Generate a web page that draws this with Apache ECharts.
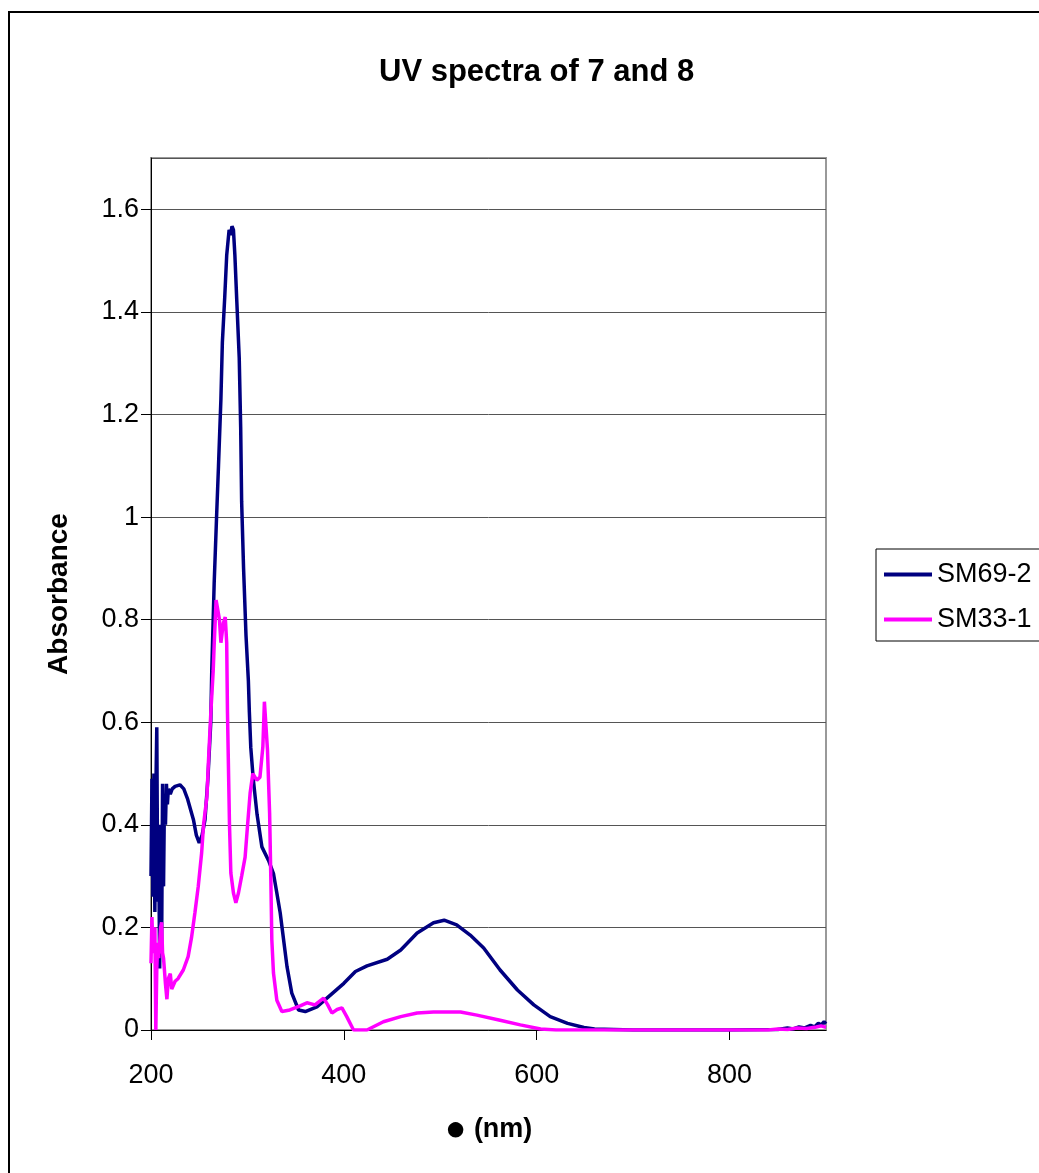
<!DOCTYPE html>
<html lang="en">
<head>
    <meta charset="utf-8"/>
    <title>UV spectra</title>
    <script src="https://cdn.jsdelivr.net/npm/echarts@6/dist/echarts.min.js"></script>
    <style>
        html, body { margin: 0; padding: 0; background: #fff; }
        #main { width: 1039px; height: 1173px; }
    </style>
</head>
<body>
<div id="main"></div>
<script type="text/javascript">

    // wavelength (nm) / absorbance
    var sm69Nm = [200, 201, 202, 203, 204, 205, 206, 207, 208, 209, 210, 211, 212, 213, 214, 215, 216, 217, 218, 220,
        222, 225, 230, 234, 238, 241, 244, 247, 250, 253, 256, 259, 262, 263, 265.5, 268, 270, 272.5, 274, 276.5,
        278.5, 281, 282.5, 284, 285.5, 287, 289, 291.5, 293, 294, 296, 298.5, 301, 302, 303.5, 306, 310, 315, 322, 327,
        330.5, 334, 337.5, 341, 346, 353, 360, 372, 386, 400, 412, 424, 445, 459, 476, 493, 504, 517, 531, 545,
        562, 580, 597, 614, 632, 649, 660, 700, 800, 850, 860, 866, 872, 878, 884, 888, 892, 895, 898, 900];
    var sm69Abs = [0.30, 0.49, 0.26, 0.50, 0.23, 0.46, 0.59, 0.25, 0.35, 0.12, 0.40, 0.15, 0.48, 0.28, 0.46, 0.40, 0.48, 0.44, 0.47, 0.46,
        0.47, 0.475, 0.478, 0.47, 0.45, 0.43, 0.41, 0.38, 0.365, 0.38, 0.41, 0.49, 0.60, 0.70, 0.87, 1.0, 1.10, 1.23, 1.34, 1.43,
        1.51, 1.56, 1.55, 1.567, 1.56, 1.51, 1.42, 1.31, 1.175, 1.03, 0.90, 0.77, 0.68, 0.62, 0.55, 0.49, 0.42, 0.357, 0.33, 0.305,
        0.267, 0.228, 0.176, 0.124, 0.072, 0.039, 0.036, 0.045, 0.068, 0.091, 0.114, 0.125, 0.138, 0.156, 0.189, 0.209, 0.214, 0.205, 0.185, 0.16,
        0.117, 0.078, 0.049, 0.026, 0.013, 0.005, 0.002, 0, 0, 0.001, 0.004, 0.002, 0.006, 0.004, 0.009, 0.006, 0.013, 0.01, 0.016, 0.012];

    var sm33Nm = [200, 201, 202, 203, 204, 205, 206, 207, 208, 210, 211, 212, 213, 215, 216.5, 218, 220, 221.5, 223, 225,
        228, 233.5, 238.5, 242, 245.5, 249, 252.5, 254.5, 258, 259.5, 262, 264.5, 265.5, 267.5, 268.5, 271, 272.5, 275, 277, 278.5,
        279.3, 281.4, 282.8, 285.5, 288, 290.7, 294, 297.6, 300, 302.8, 305.6, 309.7, 313, 316, 317.6, 319.4, 320.8, 323, 324.3, 325.3,
        327, 330.5, 335.7, 344, 354.7, 361.7, 370, 379, 383, 387.6, 393, 398, 403, 410, 424, 441, 459, 476, 493, 521,
        538, 562, 583, 604, 620, 840, 850, 860, 870, 880, 890, 895, 900];
    var sm33Abs = [0.13, 0.22, 0.15, 0.19, 0.20, 0.0, 0.12, 0.17, 0.14, 0.20, 0.21, 0.15, 0.14, 0.09, 0.06, 0.10, 0.11, 0.08, 0.08, 0.095,
        0.10, 0.117, 0.143, 0.18, 0.228, 0.28, 0.345, 0.40, 0.455, 0.52, 0.617, 0.70, 0.75, 0.838, 0.84, 0.80, 0.755, 0.793, 0.805, 0.755,
        0.62, 0.40, 0.306, 0.267, 0.248, 0.267, 0.30, 0.337, 0.396, 0.462, 0.50, 0.487, 0.493, 0.552, 0.64, 0.64, 0.546, 0.423, 0.292, 0.176,
        0.111, 0.058, 0.036, 0.039, 0.047, 0.053, 0.049, 0.062, 0.05, 0.033, 0.04, 0.043, 0.026, 0.0, 0.0, 0.016, 0.026, 0.033, 0.035, 0.035,
        0.029, 0.019, 0.01, 0.002, 0, 0, 0.002, 0.001, 0.004, 0.003, 0.006, 0.008, 0.005];

    var seriesNames = ['SM69-2', 'SM33-1'];
    var seriesColors = ['#000080', '#FF00FF'];

    function pairs(xs, ys) {
        var out = [];
        for (var i = 0; i < xs.length; i++) {
            out.push([xs[i], ys[i]]);
        }
        return out;
    }

    var font = '"Liberation Sans", Arial, sans-serif';
    var myChart = echarts.init(document.getElementById('main'));

    var option = {
        animation: false,
        backgroundColor: '#fff',
        title: {
            text: 'UV spectra of 7 and 8',
            left: 374,
            top: 52,
            textStyle: { fontFamily: font, fontSize: 31, fontWeight: 'bold', color: '#000' }
        },
        graphic: [{
            type: 'rect',
            shape: { x: 9, y: 12, width: 1200, height: 1300 },
            style: { fill: 'none', stroke: '#000', lineWidth: 2 },
            silent: true
        }],
        legend: {
            orient: 'vertical',
            left: 876,
            top: 549,
            padding: [12, 8, 8, 8],
            itemGap: 18,
            itemWidth: 48,
            itemHeight: 4,
            icon: 'rect',
            borderColor: '#000',
            borderWidth: 1,
            textStyle: { fontFamily: font, fontSize: 27, color: '#000' },
            data: seriesNames
        },
        grid: {
            left: 151,
            top: 158,
            right: 213,
            bottom: 143,
            show: true,
            borderColor: '#999',
            borderWidth: 2
        },
        xAxis: {
            type: 'value',
            min: 200,
            max: 900,
            interval: 200,
            name: '{d|\u25CF} (nm)',
            nameLocation: 'middle',
            nameGap: 82,
            nameTextStyle: {
                fontFamily: font, fontSize: 27, fontWeight: 'bold', color: '#000',
                rich: { d: { fontFamily: font, fontSize: 36, color: '#000' } }
            },
            axisLine: { lineStyle: { color: '#000', width: 1 } },
            axisTick: { show: true, inside: false, length: 10, lineStyle: { color: '#000' } },
            axisLabel: { fontFamily: font, fontSize: 27, color: '#000', margin: 32, showMaxLabel: false },
            splitLine: { show: false }
        },
        yAxis: {
            type: 'value',
            min: 0,
            max: 1.7,
            interval: 0.2,
            name: 'Absorbance',
            nameLocation: 'middle',
            nameGap: 78,
            nameTextStyle: { fontFamily: font, fontSize: 28, fontWeight: 'bold', color: '#000' },
            axisLine: { show: true, lineStyle: { color: '#000', width: 1 } },
            axisTick: { show: true, inside: false, length: 10, lineStyle: { color: '#000' } },
            axisLabel: { fontFamily: font, fontSize: 27, color: '#000', margin: 12, showMaxLabel: false },
            splitLine: { show: true, lineStyle: { color: '#555', width: 1 } }
        },
        series: [
            {
                name: seriesNames[0],
                type: 'line',
                showSymbol: false,
                color: seriesColors[0],
                lineStyle: { width: 3.5, color: seriesColors[0] },
                data: pairs(sm69Nm, sm69Abs)
            },
            {
                name: seriesNames[1],
                type: 'line',
                showSymbol: false,
                color: seriesColors[1],
                lineStyle: { width: 3.5, color: seriesColors[1] },
                data: pairs(sm33Nm, sm33Abs)
            }
        ]
    };

    myChart.setOption(option);
</script>
</body>
</html>
